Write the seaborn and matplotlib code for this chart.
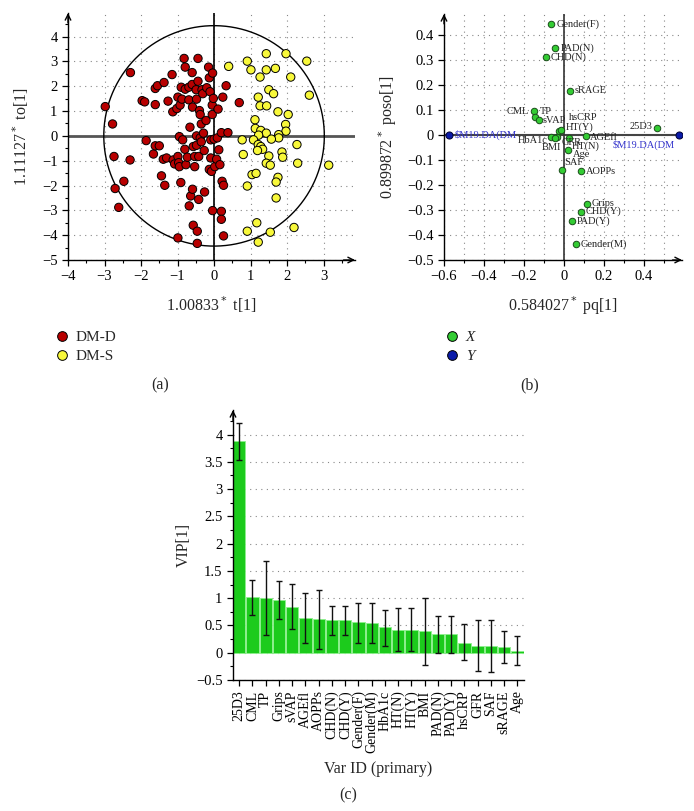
import numpy as np
import pandas as pd
import matplotlib
matplotlib.use('Agg')
import matplotlib.pyplot as plt
from matplotlib.lines import Line2D
from matplotlib.ticker import MultipleLocator, AutoMinorLocator
import seaborn as sns

# ---- data: (a) scores plot ----
dmd_x = [-2.98,-2.78,-2.74,-2.71,-2.61,-2.47,-2.30,-2.29,-1.97,-1.90,
         -1.86,-1.66,-1.61,-1.61,-1.61,-1.55,-1.50,-1.44,-1.39,-1.35,
         -1.37,-1.30,-1.26,-1.15,-1.13,-1.12,-1.08,-1.02,-0.99,-0.99,
         -0.97,-0.95,-0.95,-0.93,-0.91,-0.90,-0.88,-0.86,-0.82,-0.80,
         -0.79,-0.79,-0.77,-0.73,-0.69,-0.69,-0.66,-0.64,-0.68,-0.60,
         -0.60,-0.59,-0.57,-0.57,-0.53,-0.53,-0.49,-0.48,-0.48,-0.48,
         -0.46,-0.44,-0.44,-0.42,-0.42,-0.40,-0.38,-0.38,-0.35,-0.35,
         -0.33,-0.31,-0.29,-0.27,-0.26,-0.22,-0.20,-0.15,-0.13,-0.13,
         -0.11,-0.09,-0.09,-0.07,-0.05,-0.05,-0.04,-0.04,-0.02,0.00,
         0.02,0.07,0.09,0.11,0.13,0.16,0.20,0.20,0.22,0.26,
         0.20,0.26,0.24,0.33,0.38,0.69,-0.99,-0.46,-0.59]
dmd_y = [1.18,0.48,-0.83,-2.12,-2.88,-1.83,-0.97,2.55,1.42,1.37,
         -0.19,-0.73,-0.40,1.26,1.91,2.02,-0.40,-1.61,-0.94,-1.99,
         2.15,-0.89,1.40,2.47,0.97,-0.97,-1.13,1.10,1.56,-0.83,
         -1.08,-0.03,-1.24,1.24,-1.88,1.96,1.48,-0.16,3.12,-0.54,
         2.77,1.88,-1.16,-0.86,1.96,1.45,0.35,-2.42,-2.82,2.07,
         2.55,1.16,-0.43,-3.60,-0.83,-1.24,1.86,0.00,-0.38,1.48,
         -3.84,3.12,2.20,-0.83,-2.56,1.02,0.86,-0.08,0.48,-0.24,
         1.86,1.70,0.11,-0.59,-2.26,0.62,1.94,2.77,2.34,-1.35,
         1.78,-0.16,-0.89,-1.43,1.24,0.86,2.53,-3.01,1.51,-0.13,
         -1.24,-0.94,-0.08,1.08,-0.56,-1.16,0.13,-3.04,-1.83,-1.99,
         -3.36,-4.03,1.56,2.02,0.13,1.34,-4.11,-4.33,-2.15]
dms_x = [0.40,0.91,1.01,1.43,1.68,1.43,1.26,1.97,2.54,2.10,
         1.50,1.63,1.21,2.61,1.26,1.44,1.75,2.03,1.12,1.13,
         1.28,1.43,1.96,1.97,1.77,1.77,1.57,1.22,1.08,0.77,
         1.21,1.28,1.33,1.19,0.80,1.50,1.86,1.88,2.27,2.29,
         1.43,1.54,3.14,1.04,1.15,1.75,1.70,0.91,1.70,1.17,
         0.91,1.54,2.19,1.21]
dms_y = [2.80,3.01,2.66,3.31,2.72,2.66,2.37,3.31,3.01,2.37,
         1.86,1.70,1.56,1.64,1.21,1.21,0.97,0.86,0.65,0.30,
         0.22,0.11,0.46,0.19,0.05,-0.08,-0.13,0.03,-0.16,-0.16,
         -0.35,-0.43,-0.54,-0.59,-0.75,-0.81,-0.65,-0.86,-0.35,-1.10,
         -1.10,-1.18,-1.18,-1.56,-1.51,-1.67,-1.86,-2.02,-2.50,-3.50,
         -3.84,-3.88,-3.69,-4.28]
ellipse_rx, ellipse_ry = 3.02, 4.44

# ---- data: (b) loadings plot ----
load_names = ['Gender(F)', 'PAD(N)', 'CHD(N)', 'sRAGE', 'CML', 'TP', 'sVAP', 'hsCRP',
              'HT(Y)', 'HbA1c', 'GFR', 'BMI', 'HT(N)', 'AGEfl', 'Age', 'SAF', 'AOPPs',
              '25D3', 'Grips', 'CHD(Y)', 'PAD(Y)', 'Gender(M)']
load_x = [-0.063, -0.043, -0.090, 0.030, -0.150, -0.143, -0.127, -0.023,
          -0.017, -0.065, -0.035, -0.043, 0.023, 0.110, 0.020, -0.010, 0.085,
          0.467, 0.113, 0.083, 0.040, 0.060]
load_y = [0.445, 0.349, 0.312, 0.178, 0.096, 0.072, 0.059, 0.015,
          0.021, -0.007, -0.008, -0.013, -0.013, -0.005, -0.061, -0.139, -0.145,
          0.027, -0.274, -0.306, -0.344, -0.437]
resp_name = '$M19.DA(DM'
resp_x = [-0.573, 0.573]
resp_y = [0.0, 0.0]

# ---- data: (c) VIP plot ----
vip_vars = ['25D3', 'CML', 'TP', 'Grips', 'sVAP', 'AGEfl', 'AOPPs', 'CHD(N)', 'CHD(Y)',
            'Gender(F)', 'Gender(M)', 'HbA1c', 'HT(N)', 'HT(Y)', 'BMI', 'PAD(N)', 'PAD(Y)',
            'hsCRP', 'GFR', 'SAF', 'sRAGE', 'Age']
vip = [3.88, 1.02, 1.01, 0.97, 0.84, 0.64, 0.61, 0.60, 0.60, 0.56, 0.55, 0.47, 0.42,
       0.42, 0.39, 0.34, 0.34, 0.18, 0.13, 0.12, 0.10, 0.03]
vip_hi = [4.21, 1.34, 1.69, 1.32, 1.26, 1.10, 1.15, 0.85, 0.85, 0.91, 0.91, 0.79, 0.82,
          0.82, 1.01, 0.67, 0.67, 0.52, 0.60, 0.60, 0.40, 0.31]
vip_lo = [3.54, 0.69, 0.33, 0.62, 0.44, 0.18, 0.07, 0.32, 0.32, 0.18, 0.18, 0.13, 0.03,
          0.03, -0.22, 0.00, 0.00, -0.13, -0.33, -0.36, -0.19, -0.23]

sns.set_style('ticks')
plt.rcParams['font.family'] = ['Liberation Serif', 'DejaVu Serif']
plt.rcParams['axes.unicode_minus'] = True
FS = 10.5

W, H = 694, 811
fig = plt.figure(figsize=(W / 100, H / 100), dpi=100)


def box(l, t, r, b):
    return [l / W, 1 - b / H, (r - l) / W, (b - t) / H]


ax_a = fig.add_axes(box(68, 13, 355, 260))
ax_b = fig.add_axes(box(444, 14, 682, 260))
ax_c = fig.add_axes(box(233, 410, 524, 680))

dotgrid = dict(color='#888888', linestyle=(0, (1, 4)), linewidth=0.8)


def style_axes(ax):
    for s in ['top', 'right']:
        ax.spines[s].set_visible(False)
    for s in ['left', 'bottom']:
        ax.spines[s].set_linewidth(1.0)
        ax.spines[s].set_color('black')
    ax.tick_params(which='both', direction='out', labelsize=FS, colors='black')
    ax.tick_params(which='major', length=4, width=0.9)
    ax.tick_params(which='minor', length=2.5, width=0.8)
    ax.set_axisbelow(True)


def arrow_up(ax):
    ax.annotate('', xy=(0, 1.0), xytext=(0, 0.96), xycoords='axes fraction',
                arrowprops=dict(arrowstyle='->', lw=1.0, color='black',
                                shrinkA=0, shrinkB=0), annotation_clip=False)


def arrow_right(ax):
    ax.annotate('', xy=(1.0, 0), xytext=(0.96, 0), xycoords='axes fraction',
                arrowprops=dict(arrowstyle='->', lw=1.0, color='black',
                                shrinkA=0, shrinkB=0), annotation_clip=False)


# ---- (a) ----
df_a = pd.DataFrame({
    't': dmd_x + dms_x,
    'to': dmd_y + dms_y,
    'group': ['DM-D'] * len(dmd_x) + ['DM-S'] * len(dms_x),
})
pal_a = {'DM-D': '#b80000', 'DM-S': '#f8f83a'}
ax_a.axhline(0, color='#555555', lw=2.0, zorder=1)
ax_a.axvline(0, color='black', lw=1.2, zorder=1)
th = np.linspace(0, 2 * np.pi, 400)
ax_a.plot(ellipse_rx * np.cos(th), ellipse_ry * np.sin(th), color='black', lw=1.0, zorder=1)
sns.scatterplot(data=df_a, x='t', y='to', hue='group', palette=pal_a, s=36,
                edgecolor='black', linewidth=0.7, legend=False, ax=ax_a, zorder=3)
ax_a.set_xlim(-4, 3.86)
ax_a.set_ylim(-5, 4.95)
ax_a.xaxis.set_major_locator(MultipleLocator(1))
ax_a.yaxis.set_major_locator(MultipleLocator(1))
ax_a.xaxis.set_minor_locator(AutoMinorLocator(2))
ax_a.yaxis.set_minor_locator(AutoMinorLocator(2))
ax_a.grid(True, which='major', **dotgrid)
style_axes(ax_a)
arrow_up(ax_a)
arrow_right(ax_a)
ax_a.set_xlabel('1.00833$^*$ t[1]', fontsize=11.5, labelpad=8)
ax_a.set_ylabel('1.11127$^*$ to[1]', fontsize=11.5, labelpad=8)

# ---- (b) ----
df_b = pd.DataFrame({'pq': load_x, 'poso': load_y, 'name': load_names})
ax_b.axhline(0, color='#444444', lw=1.5, zorder=1)
ax_b.axvline(0, color='#333333', lw=1.2, zorder=1)
sns.scatterplot(data=df_b, x='pq', y='poso', color='#33cc33', s=22,
                edgecolor='#1a4d1a', linewidth=0.7, ax=ax_b, zorder=3)
sns.scatterplot(x=resp_x, y=resp_y, color='#0a1aa8', s=26, edgecolor='#000033',
                linewidth=0.7, ax=ax_b, zorder=3)
offsets = {
    'Gender(F)': (5, 0, 'left'), 'PAD(N)': (5, 0, 'left'), 'CHD(N)': (5, 0, 'left'),
    'sRAGE': (5, 0, 'left'), 'CML': (-5, 0, 'right'), 'TP': (4, 6, 'left'),
    'sVAP': (4, 0, 'left'), 'hsCRP': (10, 14, 'left'), 'HT(Y)': (5, 3, 'left'),
    'HbA1c': (-3, -4, 'right'), 'GFR': (5, -5, 'left'), 'BMI': (6, -9, 'right'),
    'HT(N)': (3, -8, 'left'), 'AGEfl': (4, -1, 'left'), 'Age': (5, -4, 'left'),
    'SAF': (2, 7, 'left'), 'AOPPs': (5, 0, 'left'), '25D3': (-5, 2, 'right'),
    'Grips': (5, 0, 'left'), 'CHD(Y)': (5, 0, 'left'), 'PAD(Y)': (5, 0, 'left'),
    'Gender(M)': (5, 0, 'left'),
}
for nm, x, y in zip(load_names, load_x, load_y):
    dx, dy, ha = offsets[nm]
    ax_b.annotate(nm, (x, y), xytext=(dx, dy), textcoords='offset pixels',
                  ha=ha, va='center', fontsize=7.5, color='#222222', zorder=4)
ax_b.annotate(resp_name, (resp_x[0], resp_y[0]), xytext=(5, 0), textcoords='offset pixels',
              ha='left', va='center', fontsize=7.5, color='#3333cc', parse_math=False)
ax_b.annotate(resp_name, (resp_x[1], resp_y[1]), xytext=(-4, -10), textcoords='offset pixels',
              ha='right', va='center', fontsize=7.5, color='#3333cc', parse_math=False)
ax_b.set_xlim(-0.6, 0.59)
ax_b.set_ylim(-0.5, 0.485)
ax_b.xaxis.set_major_locator(MultipleLocator(0.2))
ax_b.xaxis.set_minor_locator(MultipleLocator(0.1))
ax_b.yaxis.set_major_locator(MultipleLocator(0.1))
ax_b.grid(True, which='both', **dotgrid)
style_axes(ax_b)
ax_b.set_xticks(np.round(np.arange(-0.6, 0.41, 0.2), 1))
ax_b.set_xticklabels(['−0.6', '−0.4', '−0.2', '0', '0.2', '0.4'])
yt = np.round(np.arange(-0.5, 0.41, 0.1), 1)
ax_b.set_yticks(yt)
ax_b.set_yticklabels([('−' if v < 0 else '') + ('%g' % abs(v)) for v in yt])
arrow_up(ax_b)
arrow_right(ax_b)
ax_b.set_xlabel('0.584027$^*$ pq[1]', fontsize=11.5, labelpad=8)
ax_b.set_ylabel('0.899872$^*$ poso[1]', fontsize=11.5, labelpad=6)

# ---- (c) ----
df_c = pd.DataFrame({'var': vip_vars, 'vip': vip, 'lo': vip_lo, 'hi': vip_hi})
sns.barplot(data=df_c, x='var', y='vip', color='#1ccb1c', saturation=1, width=0.93,
            edgecolor='#8ef08e', linewidth=0.6, errorbar=None, ax=ax_c, zorder=2)
pos = np.arange(len(vip_vars))
ax_c.errorbar(pos, df_c['vip'], yerr=[df_c['vip'] - df_c['lo'], df_c['hi'] - df_c['vip']],
              fmt='none', ecolor='#111111', elinewidth=1.0, capsize=2.5, capthick=1.0, zorder=3)
ax_c.set_xlim(-0.47, len(vip_vars) - 0.5)
ax_c.set_ylim(-0.5, 4.45)
ax_c.yaxis.set_major_locator(MultipleLocator(0.5))
ax_c.yaxis.set_minor_locator(AutoMinorLocator(2))
ax_c.yaxis.grid(True, **dotgrid)
style_axes(ax_c)
ax_c.set_yticks(np.arange(-0.5, 4.01, 0.5))
ax_c.set_yticklabels(['−0.5', '0', '0.5', '1', '1.5', '2', '2.5', '3', '3.5', '4'])
ax_c.tick_params(axis='x', rotation=90, labelsize=10)
arrow_up(ax_c)
ax_c.set_xlabel('Var ID (primary)', fontsize=11.5, labelpad=6)
ax_c.set_ylabel('VIP[1]', fontsize=11.5, labelpad=3)

# ---- legends and captions ----
def handle(c):
    return Line2D([], [], marker='o', ls='', markerfacecolor=c, markeredgecolor='black',
                  markeredgewidth=0.7, markersize=7)


leg_a = fig.legend([handle('#b80000'), handle('#f8f83a')], ['DM-D', 'DM-S'],
                   loc='upper left', bbox_to_anchor=(39 / W, 1 - 317 / H), frameon=False,
                   fontsize=11, handletextpad=0.3, labelspacing=0.35, handlelength=1.2)
leg_b = fig.legend([handle('#33cc33'), handle('#0a1aa8')], ['X', 'Y'],
                   loc='upper left', bbox_to_anchor=(429 / W, 1 - 317 / H), frameon=False,
                   fontsize=11, handletextpad=0.3, labelspacing=0.35, handlelength=1.2)
for t in leg_b.get_texts():
    t.set_fontstyle('italic')

fig.text(160 / W, 1 - 385 / H, '(a)', ha='center', va='center', fontsize=11.5)
fig.text(530 / W, 1 - 385 / H, '(b)', ha='center', va='center', fontsize=11.5)
fig.text(348 / W, 1 - 795 / H, '(c)', ha='center', va='center', fontsize=11.5)

fig.savefig('out.png', dpi=100)
